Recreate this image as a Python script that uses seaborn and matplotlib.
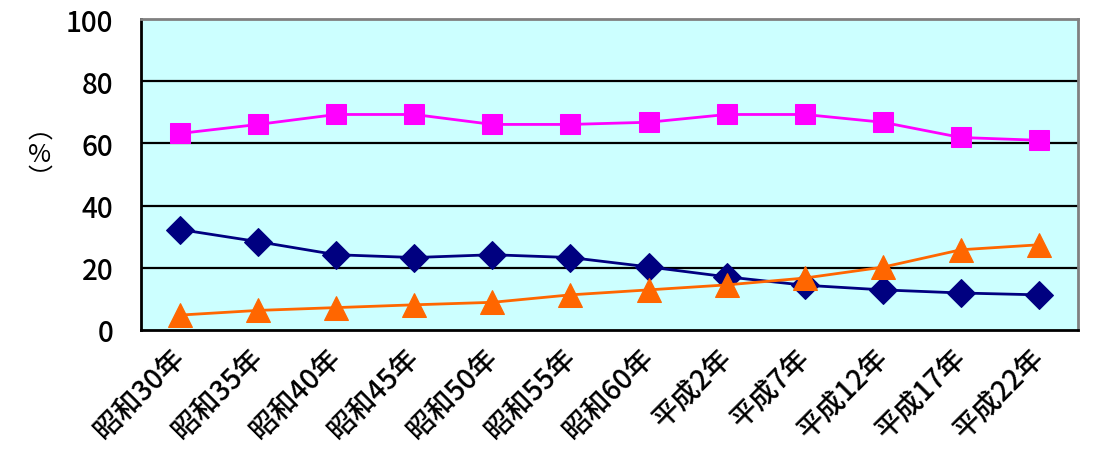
import numpy as np
import pandas as pd
import matplotlib
matplotlib.use("Agg")
import matplotlib.pyplot as plt
import seaborn as sns

years = ["昭和30年", "昭和35年", "昭和40年", "昭和45年", "昭和50年", "昭和55年",
         "昭和60年", "平成2年", "平成7年", "平成12年", "平成17年", "平成22年"]
young = [32.3, 28.4, 24.2, 23.3, 24.2, 23.3, 20.3, 17.1, 14.4, 12.9, 11.9, 11.3]
working = [63.2, 66.1, 69.3, 69.3, 66.1, 66.1, 66.8, 69.3, 69.3, 66.8, 61.9, 61.0]
elderly = [4.8, 6.3, 7.2, 8.1, 8.9, 11.3, 12.9, 14.5, 16.7, 20.2, 25.8, 27.4]

sns.set_style("white")
plt.rcParams['font.family'] = ['Noto Sans CJK JP', 'DejaVu Sans']
plt.rcParams['text.color'] = 'black'
plt.rcParams['xtick.color'] = 'black'
plt.rcParams['ytick.color'] = 'black'

df = pd.DataFrame({"pos": np.arange(len(years)), "young": young,
                   "working": working, "elderly": elderly})

fig = plt.figure(figsize=(10.94, 4.6), dpi=100)
ax = fig.add_axes([141 / 1094, 1 - 331 / 460, (1078 - 141) / 1094, (331 - 20) / 460])
ax.set_facecolor("#CCFFFF")

sns.lineplot(data=df, x="pos", y="young", ax=ax, color="#000080", lw=2,
             marker="D", markersize=14, markeredgecolor="#000080", zorder=3)
sns.lineplot(data=df, x="pos", y="working", ax=ax, color="#FF00FF", lw=2,
             marker="s", markersize=15, markeredgecolor="#FF00FF", zorder=3)
sns.lineplot(data=df, x="pos", y="elderly", ax=ax, color="#FF6600", lw=2,
             marker="^", markersize=17, markeredgecolor="#FF6600", zorder=4)

ax.set_xlim(-0.5, len(years) - 0.5)
ax.set_ylim(0, 100)
ax.set_yticks(range(0, 101, 20))
for v in range(20, 100, 20):
    ax.axhline(v, color="black", lw=1.6, zorder=1)

# Excel-style: ticks between categories, labels at centres
ax.set_xticks(np.arange(len(years)))
ax.set_xticklabels(years, rotation=45, ha="right", va="center",
                   rotation_mode="anchor", fontsize=20, fontweight="medium")
ax.set_xticks(np.arange(-0.5, len(years) + 0.5, 1), minor=True)
ax.tick_params(axis="x", which="major", length=0, pad=16)
ax.tick_params(axis="x", which="minor", direction="in", length=7, width=1.5, color="black")
ax.tick_params(axis="y", length=0, labelsize=20, pad=20)
for lab in ax.get_yticklabels():
    lab.set_fontweight("medium")
ax.set_xlabel("")
ax.set_ylabel("")

for side in ["left", "bottom"]:
    ax.spines[side].set_color("black")
    ax.spines[side].set_linewidth(2)
for side in ["top", "right"]:
    ax.spines[side].set_color("#808080")
    ax.spines[side].set_linewidth(2)

fig.text(40 / 1094, 1 - 155 / 460, "︵\n%\n︶", ha="center", va="center",
         fontsize=18, linespacing=0.9)

fig.savefig("out.png", dpi=100)
